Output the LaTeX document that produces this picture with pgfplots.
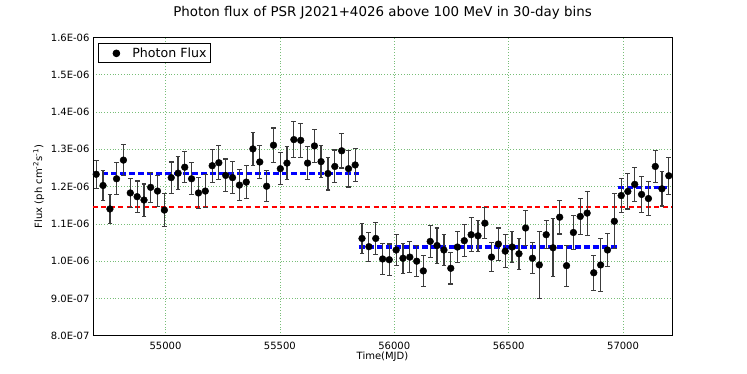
\documentclass[border=0pt]{standalone}
\usepackage{fontspec}
\setmainfont{DejaVu Sans}
\usepackage{pgfplots}
\usepackage{pgfplotstable}
\pgfplotsset{compat=1.18}
\definecolor{gridgreen}{RGB}{120,190,120}
\definecolor{errgray}{RGB}{60,60,60}

% 30-day bins: MJD, flux, 1-sigma error
\pgfplotstableread{
x y e
54697 1.233e-6 0.037e-6
54727 1.203e-6 0.041e-6
54757 1.140e-6 0.039e-6
54786 1.221e-6 0.043e-6
54816 1.271e-6 0.042e-6
54846 1.183e-6 0.039e-6
54876 1.173e-6 0.042e-6
54906 1.164e-6 0.043e-6
54935 1.198e-6 0.040e-6
54965 1.188e-6 0.042e-6
54995 1.137e-6 0.045e-6
55025 1.224e-6 0.042e-6
55055 1.236e-6 0.044e-6
55084 1.252e-6 0.042e-6
55114 1.221e-6 0.043e-6
55144 1.183e-6 0.041e-6
55174 1.188e-6 0.044e-6
55204 1.256e-6 0.044e-6
55233 1.264e-6 0.046e-6
55263 1.230e-6 0.044e-6
55293 1.224e-6 0.043e-6
55323 1.204e-6 0.042e-6
55353 1.212e-6 0.045e-6
55382 1.301e-6 0.045e-6
55412 1.266e-6 0.045e-6
55442 1.201e-6 0.042e-6
55472 1.311e-6 0.046e-6
55502 1.248e-6 0.043e-6
55531 1.263e-6 0.045e-6
55561 1.326e-6 0.048e-6
55591 1.324e-6 0.046e-6
55621 1.263e-6 0.044e-6
55651 1.309e-6 0.044e-6
55680 1.267e-6 0.043e-6
55710 1.235e-6 0.044e-6
55740 1.254e-6 0.044e-6
55770 1.296e-6 0.046e-6
55800 1.248e-6 0.049e-6
55829 1.258e-6 0.044e-6
55859 1.061e-6 0.041e-6
55889 1.039e-6 0.039e-6
55919 1.061e-6 0.042e-6
55949 1.006e-6 0.041e-6
55978 1.004e-6 0.042e-6
56008 1.030e-6 0.041e-6
56038 1.008e-6 0.040e-6
56068 1.011e-6 0.041e-6
56098 1.000e-6 0.042e-6
56127 0.974e-6 0.042e-6
56157 1.053e-6 0.042e-6
56187 1.042e-6 0.047e-6
56217 1.030e-6 0.042e-6
56247 0.981e-6 0.042e-6
56276 1.038e-6 0.042e-6
56306 1.055e-6 0.043e-6
56336 1.071e-6 0.045e-6
56366 1.068e-6 0.042e-6
56396 1.102e-6 0.041e-6
56425 1.011e-6 0.038e-6
56455 1.046e-6 0.043e-6
56485 1.027e-6 0.045e-6
56515 1.038e-6 0.042e-6
56545 1.020e-6 0.042e-6
56574 1.089e-6 0.046e-6
56604 1.008e-6 0.042e-6
56634 0.990e-6 0.090e-6
56664 1.071e-6 0.037e-6
56694 1.036e-6 0.078e-6
56723 1.118e-6 0.045e-6
56753 0.988e-6 0.055e-6
56783 1.077e-6 0.045e-6
56813 1.120e-6 0.048e-6
56843 1.129e-6 0.059e-6
56872 0.969e-6 0.047e-6
56902 0.990e-6 0.072e-6
56932 1.030e-6 0.044e-6
56962 1.107e-6 0.074e-6
56992 1.176e-6 0.046e-6
57021 1.187e-6 0.047e-6
57051 1.206e-6 0.045e-6
57081 1.179e-6 0.049e-6
57111 1.168e-6 0.046e-6
57141 1.254e-6 0.042e-6
57170 1.194e-6 0.046e-6
57200 1.229e-6 0.050e-6
}\fluxdata

\begin{document}
\begin{tikzpicture}
\useasboundingbox (-93pt,-38.2pt) rectangle (654pt,335.8pt);
\begin{axis}[
    scale only axis,
    width=579pt, height=298.4pt,
    xmin=54683, xmax=57214,
    ymin=8e-7, ymax=1.6e-6,
    xtick={55000,55500,56000,56500,57000},
    xticklabels={55000,55500,56000,56500,57000},
    ytick={8e-7,9e-7,1e-6,1.1e-6,1.2e-6,1.3e-6,1.4e-6,1.5e-6,1.6e-6},
    yticklabels={8.0E-07,9.0E-07,1.0E-06,1.1E-06,1.2E-06,1.3E-06,1.4E-06,1.5E-06,1.6E-06},
    scaled x ticks=false, scaled y ticks=false,
    major tick length=0pt,
    tick label style={font=\fontsize{10}{12}\selectfont},
    xticklabel style={anchor=base, yshift=-14pt},
    grid=major,
    major grid style={gridgreen, line width=0.6pt, dash pattern=on 0.8pt off 2pt},
    axis line style={line width=0.8pt},
    title={Photon flux of PSR J2021+4026 above 100 MeV in 30-day bins},
    title style={font=\fontsize{13.4}{15}\selectfont, at={(0.5,1)}, anchor=base, yshift=15pt},
    xlabel={Time(MJD)},
    xlabel style={font=\fontsize{10}{12}\selectfont, at={(0.5,0)}, anchor=base, yshift=-24pt},
    ylabel={Flux (ph cm\textsuperscript{-2}s\textsuperscript{-1})},
    ylabel style={font=\fontsize{10}{12}\selectfont, at={(axis description cs:-0.088,0.5)}, rotate=0, anchor=base},
    legend style={at={(0,1)}, anchor=north west, xshift=5pt, yshift=-6pt,
        draw=black, line width=0.8pt, font=\fontsize{12.6}{14}\selectfont,
        inner sep=2pt, legend cell align=left},
    legend image code/.code={
        \path[draw=none, fill=none] (0pt,0pt) -- (30pt,0pt);
        \fill[black] (16pt,0pt) circle (3.4pt);
    },
]
% overall mean
\addplot[red, line width=1.8pt, dash pattern=on 5pt off 3.5pt, forget plot]
    coordinates {(54683,1.1446e-6) (57214,1.1446e-6)};
% mean of each state
\addplot[blue, line width=3.5pt, dash pattern=on 6pt off 3pt, forget plot]
    coordinates {(54683,1.2357e-6) (55845,1.2357e-6)};
\addplot[blue, line width=3.5pt, dash pattern=on 6pt off 3pt, forget plot]
    coordinates {(55845,1.0384e-6) (56977,1.0384e-6)};
\addplot[blue, line width=3.5pt, dash pattern=on 6pt off 3pt, forget plot]
    coordinates {(56977,1.198e-6) (57192,1.198e-6)};
\addplot[only marks, mark=*, mark size=3.4pt, black,
    error bars/.cd, y dir=both, y explicit,
    error bar style={errgray, line width=1.2pt},
    error mark options={errgray, line width=1.1pt, mark size=2.4pt, rotate=90}]
    table[x=x, y=y, y error=e] {\fluxdata};
\addlegendentry{Photon Flux}
\end{axis}
\end{tikzpicture}
\end{document}
